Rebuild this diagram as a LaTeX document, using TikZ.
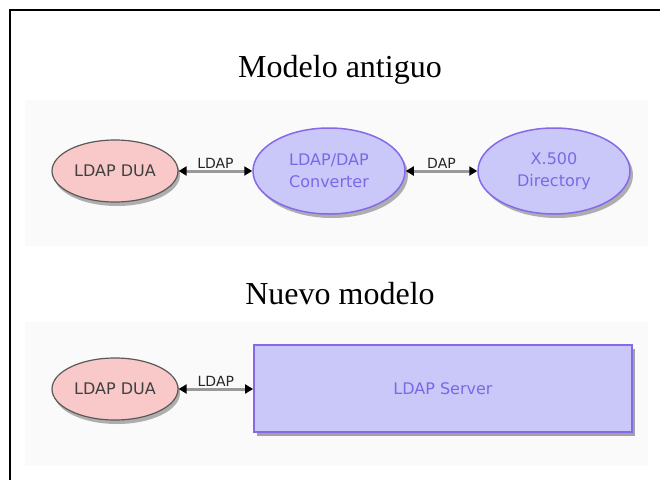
\documentclass[tikz,border=0pt]{standalone}
\usepackage{fontspec}
\setmainfont{Liberation Serif}
\newfontfamily\diafont{DejaVu Sans}
\usetikzlibrary{shapes.geometric,shadows,arrows.meta}
\definecolor{pinkfill}{HTML}{F9C9C9}
\definecolor{lavfill}{HTML}{C9C8F9}
\definecolor{purpline}{HTML}{8669E8}
\definecolor{purptext}{HTML}{7C68E6}
\definecolor{panelbg}{HTML}{FAFAFA}
\tikzset{
  panel/.style={fill=panelbg, draw=none},
  title/.style={font=\fontsize{32}{35}\selectfont, text=black},
  duanode/.style={ellipse, draw=black!65, line width=1.2pt, fill=pinkfill,
     minimum width=126pt, minimum height=62pt, inner sep=0pt,
     text=black!75, font=\diafont\fontsize{16}{18}\selectfont,
     drop shadow={shadow xshift=2pt, shadow yshift=-4pt, opacity=0.3, fill=black}},
  purpnode/.style={ellipse, draw=purpline, line width=1.5pt, fill=lavfill,
     minimum width=152pt, minimum height=86pt, inner sep=0pt, align=center,
     text=purptext, font=\diafont\fontsize{16}{22}\selectfont,
     drop shadow={shadow xshift=3pt, shadow yshift=-4pt, opacity=0.3, fill=black}},
  servernode/.style={rectangle, draw=purpline, line width=1.8pt, fill=lavfill,
     minimum width=378pt, minimum height=87pt, inner sep=0pt,
     text=purptext, font=\diafont\fontsize{16}{18}\selectfont,
     drop shadow={shadow xshift=3pt, shadow yshift=-4pt, opacity=0.35, fill=black}},
  link/.style={draw=black!40, line width=3pt,
     {Triangle[black,length=8pt,width=9pt]}-{Triangle[black,length=8pt,width=9pt]}},
  linklabel/.style={font=\diafont\fontsize{14}{15}\selectfont, text=black!85, inner sep=0.5pt}
}
\begin{document}
\begin{tikzpicture}[x=1pt,y=-1pt]
\useasboundingbox (0,0) rectangle (660,480);
% frame (top and left only)
\draw[line width=2.2pt] (10,480) -- (10,10) -- (660,10);
% panels
\fill[panel] (25,100) rectangle (648,246);
\fill[panel] (25,322) rectangle (648,466);
% titles
\node[title, anchor=base] (t1) at (340,77) {Modelo antiguo};
\node[title, anchor=base] (t2) at (340,304) {Nuevo modelo};
% old model
\node[duanode] (dua1) at (115,171) {LDAP DUA};
\node[purpnode] (conv) at (329,171) {LDAP/DAP\\Converter};
\node[purpnode] (x500) at (554,171) {X.500\\Directory};
\draw[link] (dua1.east) -- (conv.west) node[midway, above=1pt, linklabel] (l1) {LDAP};
\draw[link] (conv.east) -- (x500.west) node[midway, above=1pt, linklabel] (l2) {DAP};
% new model
\node[duanode] (dua2) at (115,389) {LDAP DUA};
\node[servernode] (srv) at (443,388.5) {LDAP Server};
\draw[link] (dua2.east) -- (dua2.east -| srv.west) node[midway, above=1pt, linklabel] (l3) {LDAP};
\end{tikzpicture}
\end{document}
